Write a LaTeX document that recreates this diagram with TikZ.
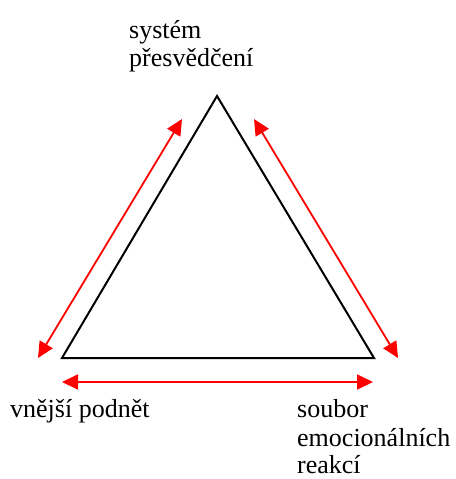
\documentclass[tikz,border=0pt]{standalone}
\usepackage{fontspec}
\setmainfont{Liberation Serif}
\usetikzlibrary{arrows.meta}
\begin{document}
\begin{tikzpicture}[x=1pt,y=-1pt,
  lbl/.style={anchor=base west,inner sep=0pt,font=\fontsize{26}{30}\selectfont},
  tri/.style={draw=black,line width=2pt},
  rarr/.style={draw=red,line width=1.8pt,{Triangle[length=16pt,width=15pt]}-{Triangle[length=16pt,width=15pt]}}]
\useasboundingbox (0,0) rectangle (455,479);
% triangle
\coordinate (A) at (217,96);
\coordinate (L) at (62,358);
\coordinate (R) at (374,358);
\draw[tri] (A) -- (L) -- (R) -- cycle;
% arrow ends
\coordinate (l1) at (38,358);
\coordinate (l2) at (182,119);
\coordinate (r1) at (254,119);
\coordinate (r2) at (398,358);
\coordinate (b1) at (62,382);
\coordinate (b2) at (373,382);
\draw[rarr] (l1) -- (l2);
\draw[rarr] (r1) -- (r2);
\draw[rarr] (b1) -- (b2);
% labels
\node[lbl] (t1) at (129,38) {systém};
\node[lbl] (t2) at (129,66) {přesvědčení};
\node[lbl] (v1) at (10,417) {vnější podnět};
\node[lbl] (s1) at (297,417) {soubor};
\node[lbl] (s2) at (297,446) {emocionálních};
\node[lbl] (s3) at (297,473) {reakcí};
\end{tikzpicture}
\end{document}
